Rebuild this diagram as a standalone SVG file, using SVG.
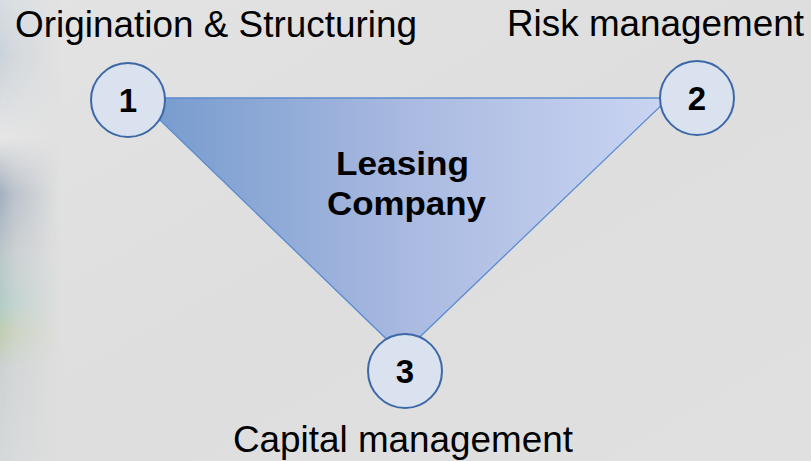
<svg xmlns="http://www.w3.org/2000/svg" width="811" height="461" viewBox="0 0 811 461">
  <defs>
    <linearGradient id="bg" x1="0" y1="0" x2="1" y2="1">
      <stop offset="0" stop-color="#e3e3e3"/>
      <stop offset="0.5" stop-color="#dedede"/>
      <stop offset="1" stop-color="#e0e0e0"/>
    </linearGradient>
    <!-- blurred photo strip along the left edge -->
    <linearGradient id="stripV" x1="0" y1="0" x2="0" y2="1">
      <stop offset="0" stop-color="#d6dde3"/>
      <stop offset="0.12" stop-color="#c9d2da"/>
      <stop offset="0.3" stop-color="#e6e6e6"/>
      <stop offset="0.42" stop-color="#a3afbf"/>
      <stop offset="0.55" stop-color="#bcc6ca"/>
      <stop offset="0.66" stop-color="#b0ccc6"/>
      <stop offset="0.72" stop-color="#bfcdb0"/>
      <stop offset="0.8" stop-color="#cbd1d1"/>
      <stop offset="1" stop-color="#d4d8da"/>
    </linearGradient>
    <linearGradient id="stripFade" x1="0" y1="0" x2="1" y2="0">
      <stop offset="0" stop-color="#fff" stop-opacity="1"/>
      <stop offset="0.25" stop-color="#fff" stop-opacity="0.6"/>
      <stop offset="1" stop-color="#fff" stop-opacity="0"/>
    </linearGradient>
    <mask id="fadeMask">
      <rect x="0" y="0" width="60" height="461" fill="url(#stripFade)"/>
    </mask>
    <linearGradient id="triFill" gradientUnits="userSpaceOnUse" x1="137" y1="0" x2="670" y2="0">
      <stop offset="0" stop-color="#739acd"/>
      <stop offset="0.5" stop-color="#a9b9e0"/>
      <stop offset="1" stop-color="#cad5f2"/>
    </linearGradient>
    <style>
      .label { font-family: "Liberation Sans", Arial, sans-serif; font-size: 37px; fill: #000; }
      .title { font-family: "Liberation Sans", Arial, sans-serif; font-size: 33px; font-weight: bold; fill: #000; }
      .num { font-family: "Liberation Sans", Arial, sans-serif; font-size: 33px; font-weight: bold; fill: #000; text-anchor: middle; }
      .node circle { fill: #d9e2ee; stroke: #3d68a8; stroke-width: 2; }
      .tri { fill: url(#triFill); stroke: #5b8bd0; stroke-width: 1.3; }
    </style>
  </defs>

  <!-- background -->
  <rect x="0" y="0" width="811" height="461" fill="url(#bg)"/>
  <rect x="0" y="0" width="60" height="461" fill="url(#stripV)" mask="url(#fadeMask)"/>

  <!-- connectors: the triangle joining the three functions -->
  <g id="connectors">
    <polygon class="tri" points="137,98 669,98 402,354"/>
  </g>

  <!-- centre label -->
  <g id="leasing-company">
    <text class="title" x="336" y="175" textLength="133" lengthAdjust="spacingAndGlyphs">Leasing</text>
    <text class="title" x="327" y="215" textLength="159" lengthAdjust="spacingAndGlyphs">Company</text>
  </g>

  <g id="node-1" class="node">
    <circle cx="128" cy="100" r="37"/>
    <text class="num" x="128" y="112">1</text>
    <text class="label" x="15" y="37" textLength="402" lengthAdjust="spacingAndGlyphs">Origination &amp; Structuring</text>
  </g>

  <g id="node-2" class="node">
    <circle cx="697" cy="98" r="37"/>
    <text class="num" x="697" y="110">2</text>
    <text class="label" x="507" y="36" textLength="297" lengthAdjust="spacingAndGlyphs">Risk management</text>
  </g>

  <g id="node-3" class="node">
    <circle cx="405" cy="371" r="37"/>
    <text class="num" x="405" y="383">3</text>
    <text class="label" x="233" y="452" textLength="340" lengthAdjust="spacingAndGlyphs">Capital management</text>
  </g>
</svg>
